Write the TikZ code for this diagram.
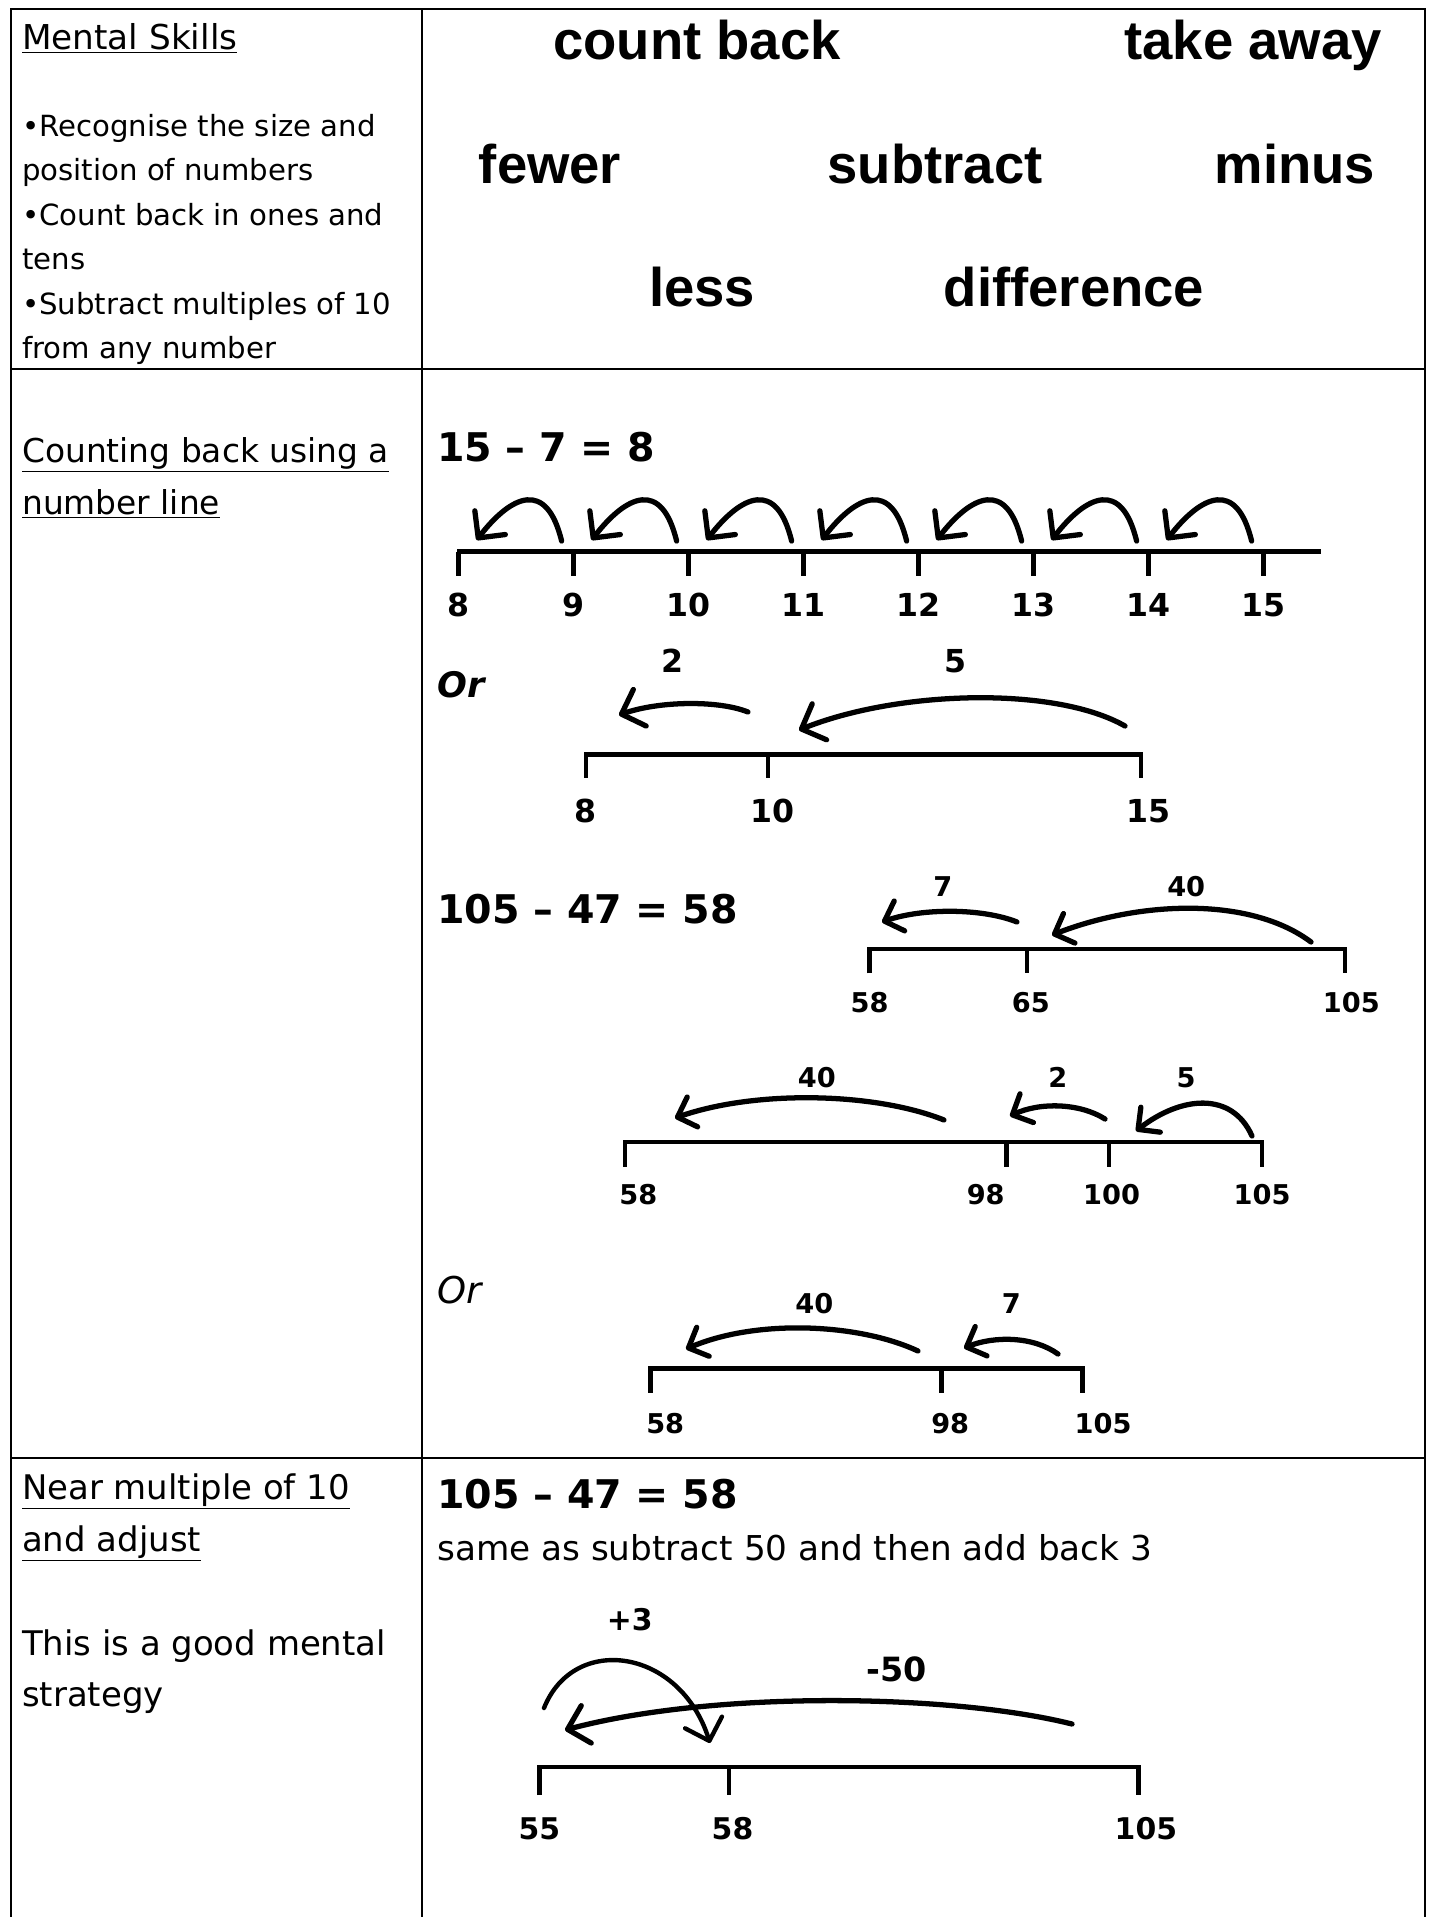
\documentclass[tikz,border=0pt]{standalone}
\usepackage{fontspec}
\setmainfont{DejaVu Sans}
\newfontfamily\kwfont{Liberation Sans}
\usetikzlibrary{arrows.meta}

\begin{document}
\begin{tikzpicture}[x=0.02cm,y=-0.02cm,
  grid/.style={line width=1.1pt},
  numline/.style={line width=2.5pt,line cap=butt,line join=miter},
  hop/.style={line width=3pt,line cap=round,-{Straight Barb[length=11pt,width=22pt,round]}},
  minihop/.style={hop,-{Straight Barb[length=9pt,width=18pt,round]}},
  keyword/.style={anchor=base,font=\kwfont\bfseries\fontsize{31}{37}\selectfont},
  side/.style={anchor=base west,font=\fontsize{18.7}{23}\selectfont},
  skill/.style={anchor=base west,font=\fontsize{16.6}{20}\selectfont},
  sumtext/.style={anchor=base west,font=\bfseries\fontsize{22.5}{27}\selectfont},
  numlab/.style={anchor=base,font=\bfseries\fontsize{18}{22}\selectfont},
  smalllab/.style={anchor=base,font=\bfseries\fontsize{15.5}{19}\selectfont},
  midlab/.style={anchor=base,font=\bfseries\fontsize{17}{21}\selectfont}]
  \useasboundingbox (0,0) rectangle (1432,1917);

  % table
  \draw[grid] (11,1917) -- (11,8.6) -- (1424.6,8.6) -- (1424.6,1917);
  \draw[grid] (421.9,8.6) -- (421.9,1917);
  \draw[grid] (11,369.3) -- (1424.6,369.3);
  \draw[grid] (11,1457.7) -- (1424.6,1457.7);

  % mental skills
  \node[skill,font=\fontsize{19.5}{23}\selectfont] (skills) at (16,49) {\underline{Mental Skills}};
  \foreach \txt [count=\i from 0] in {•Recognise the size and,position of numbers,•Count back in ones and,tens,•Subtract multiples of 10,from any number}
    \node[skill] (sk\i) at (16,136+44.5*\i) {\txt};

  \node[keyword] (kcount) at (697,59) {count back};
  \node[keyword] (ktake) at (1253,59) {take away};
  \node[keyword] (kfewer) at (550,183) {fewer};
  \node[keyword] (ksub) at (935,183) {subtract};
  \node[keyword] (kminus) at (1295,183) {minus};
  \node[keyword] (kless) at (702,306) {less};
  \node[keyword] (kdiff) at (1074,306) {difference};

  % counting back
  \node[side] (cb1) at (16,462) {\underline{Counting back using a}};
  \node[side] (cb2) at (16,514) {\underline{number line}};
  \node[sumtext] (eqa) at (431,461) {15 – 7 = 8};

  \draw[numline] (457,551.5) -- (1321,551.5);
  \foreach \n [count=\i from 0] in {8,...,15} {
    \draw[numline] (458.6+115*\i,551.5) -- (458.6+115*\i,576);
    \node[numlab] (ta\n) at (458.6+115*\i,616) {\n};
  }
  \foreach \i in {0,...,6}
    \draw[hop] (561.6+115*\i,541) .. controls +(-15,-62) and +(35,-45) .. (476.6+115*\i,540);

  \node[sumtext,font=\bfseries\itshape\fontsize{20}{24}\selectfont] (ora) at (431,697) {Or};
  \draw[numline] (585.8,777.8) -- (585.8,754.5) -- (1141,754.5) -- (1141,777.8);
  \draw[numline] (768,754.5) -- (768,777.8);
  \node[numlab] (tb8) at (585.8,822) {8};
  \node[numlab] (tb10) at (772.9,822) {10};
  \node[numlab] (tb15) at (1148.3,822) {15};
  \draw[hop] (748,712) .. controls +(-30,-12) and +(40,-14) .. (619,715);
  \draw[hop] (1125,726) .. controls +(-70,-40) and +(100,-40) .. (799,730);
  \node[numlab] (jb2) at (672.6,672) {2};
  \node[numlab] (jb5) at (955.1,672) {5};

  \node[sumtext] (eqb) at (431,923) {105 – 47 = 58};
  \draw[numline] (869.5,973.4) -- (869.5,949) -- (1345.2,949) -- (1345.2,973.4);
  \draw[numline] (1027.2,949) -- (1027.2,973.4);
  \node[smalllab] (tc58) at (869.5,1012) {58};
  \node[smalllab] (tc65) at (1030.9,1012) {65};
  \node[smalllab] (tc105) at (1351.3,1012) {105};
  \draw[minihop] (1017,922) .. controls +(-35,-14) and +(40,-14) .. (882,922);
  \draw[minihop] (1311,942) .. controls +(-60,-45) and +(90,-35) .. (1052,935);
  \node[smalllab] (jc7) at (942.9,896) {7};
  \node[smalllab] (jc40) at (1186.2,896) {40};

  \draw[numline] (624.9,1166.6) -- (624.9,1142.2) -- (1262,1142.2) -- (1262,1166.6);
  \foreach \x in {1006.4,1109.2}
    \draw[numline] (\x,1142.2) -- (\x,1166.6);
  \node[smalllab] (td58) at (638.3,1204.5) {58};
  \node[smalllab] (td98) at (985.7,1204.5) {98};
  \node[smalllab] (td100) at (1111.6,1204.5) {100};
  \node[smalllab] (td105) at (1262,1204.5) {105};
  \draw[minihop] (944,1120) .. controls +(-70,-28) and +(80,-28) .. (675,1118);
  \draw[minihop] (1105,1119) .. controls +(-25,-16) and +(30,-14) .. (1010,1116);
  \draw[minihop] (1252,1136) .. controls +(-20,-45) and +(45,-35) .. (1136,1131);
  \node[smalllab] (jd40) at (816.9,1087) {40};
  \node[smalllab] (jd2) at (1057.8,1087) {2};
  \node[smalllab] (jd5) at (1186.2,1087) {5};

  \node[sumtext,font=\itshape\fontsize{21}{25}\selectfont] (orb) at (431,1303.6) {Or};
  \draw[numline] (650.6,1392.9) -- (650.6,1368.4) -- (1082.3,1368.4) -- (1082.3,1392.9);
  \draw[numline] (941.6,1368.4) -- (941.6,1392.9);
  \node[smalllab] (te58) at (665.2,1433) {58};
  \node[smalllab] (te98) at (950.2,1433) {98};
  \node[smalllab] (te105) at (1103.1,1433) {105};
  \draw[minihop] (918,1351) .. controls +(-60,-28) and +(70,-30) .. (686,1349);
  \draw[minihop] (1058,1354) .. controls +(-25,-18) and +(30,-12) .. (964,1348);
  \node[smalllab] (je40) at (814.4,1313) {40};
  \node[smalllab] (je7) at (1011.3,1313) {7};

  % near multiple of 10
  \node[side,font=\fontsize{19.3}{23}\selectfont] (nm1) at (16,1499) {\underline{Near multiple of 10}};
  \node[side,font=\fontsize{19.3}{23}\selectfont] (nm2) at (16,1551) {\underline{and adjust}};
  \node[side,font=\fontsize{19.3}{23}\selectfont] (gd1) at (16,1655) {This is a good mental};
  \node[side,font=\fontsize{19.3}{23}\selectfont] (gd2) at (16,1706) {strategy};
  \node[sumtext] (eqc) at (431,1508) {105 – 47 = 58};
  \node[side,font=\fontsize{19.5}{23}\selectfont] (same) at (431,1560) {same as subtract 50 and then add back 3};

  \draw[numline] (539.3,1795.2) -- (539.3,1767.1) -- (1138.5,1767.1) -- (1138.5,1795.2);
  \draw[numline] (728.8,1767.1) -- (728.8,1795.2);
  \node[midlab] (tf55) at (539.3,1839) {55};
  \node[midlab] (tf58) at (732.5,1839) {58};
  \node[midlab] (tf105) at (1145.9,1839) {105};
  \draw[hop] (1072,1724) .. controls +(-120,-30) and +(150,-40) .. (565,1730);
  \draw[hop,line width=2.5pt] (544,1708) .. controls +(30,-75) and +(-30,-95) .. (710,1743);
  \node[midlab] (jf3) at (629.8,1630) {+3};
  \node[midlab,font=\bfseries\fontsize{19}{23}\selectfont] (jf50) at (896.4,1681.5) {-50};
\end{tikzpicture}
\end{document}
